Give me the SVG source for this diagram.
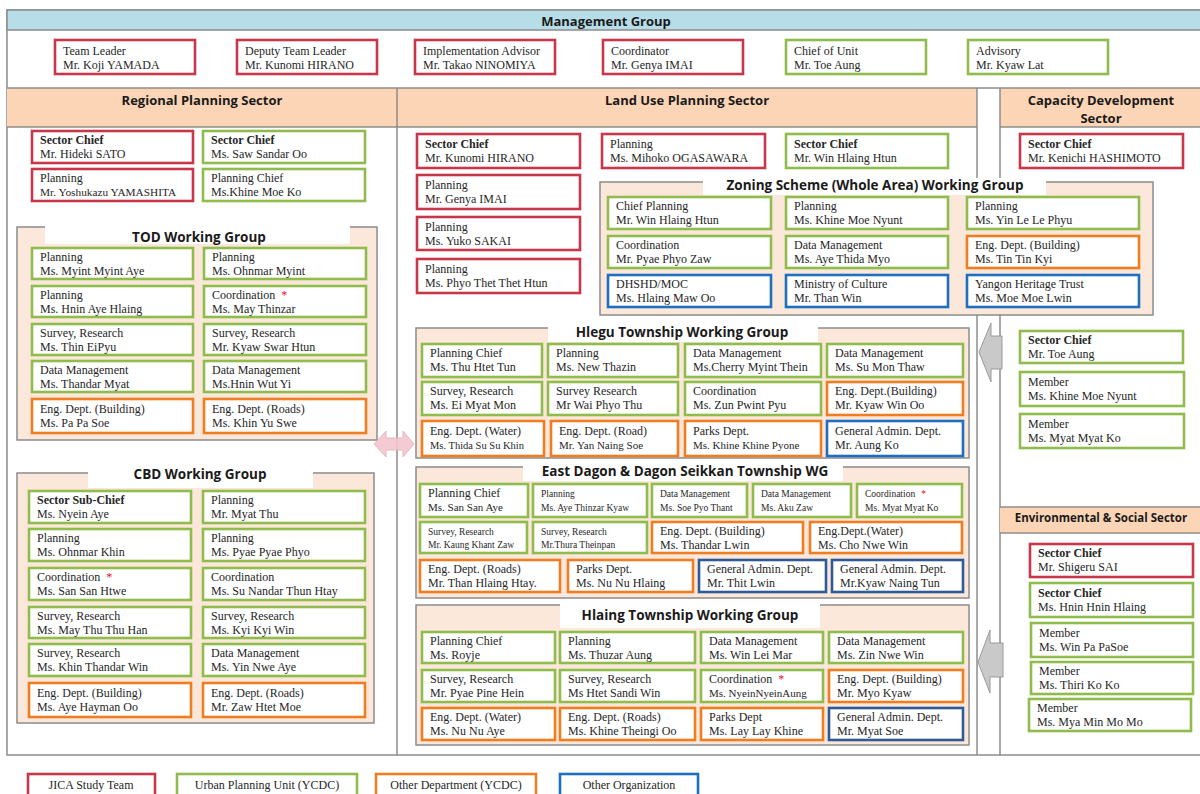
<svg xmlns="http://www.w3.org/2000/svg" width="1200" height="794" viewBox="0 0 1200 794">
<defs>
<style>
.bx{fill:#fff;stroke-width:2.6}
.r{stroke:#c8364a}
.g{stroke:#8fbc4c}
.o{stroke:#ef7d22}
.b{stroke:#1f6fc0}
.d{stroke:#2e5a98}
.t{font-family:"Liberation Serif","Times New Roman",serif;font-size:12px;fill:#262626}
.sm{font-size:9.5px}
.bo{font-weight:bold}
.h{font-family:"Open Sans","Liberation Sans",Arial,sans-serif;font-weight:bold;font-size:13px;fill:#1a1a1a;text-anchor:middle}
.wt{font-size:13.5px}
.wg{fill:#fce8da;stroke:#8c8c8c;stroke-width:1.5}
.ln{stroke:#8c8c8c;stroke-width:1.5;fill:none}
.band{fill:#fbd5b6}
.star{fill:#e0102a}
.lg{text-anchor:middle}
</style>
</defs>
<rect x="0" y="0" width="1200" height="794" fill="#fff"/>

<!-- frame and bands -->
<g id="frame">
<rect x="7" y="10" width="1200" height="745" fill="#fff" stroke="#8c8c8c" stroke-width="1.5"/>
<rect x="7" y="10" width="1200" height="20" fill="#b7dde8" stroke="#8c8c8c" stroke-width="1.5"/>
<text class="h" x="606" y="26">Management Group</text>
<rect class="band" x="7" y="88" width="390" height="39"/>
<rect class="band" x="397" y="88" width="580" height="39"/>
<rect class="band" x="1000" y="88" width="200" height="39"/>
<line class="ln" x1="7" y1="88" x2="1200" y2="88"/>
<line class="ln" x1="7" y1="127" x2="977" y2="127"/>
<line class="ln" x1="1000" y1="127" x2="1200" y2="127"/>
<line class="ln" x1="397" y1="88" x2="397" y2="755"/>
<line class="ln" x1="977" y1="88" x2="977" y2="755"/>
<line class="ln" x1="1000" y1="88" x2="1000" y2="755"/>
<text class="h" x="202" y="105">Regional Planning Sector</text>
<text class="h" x="687" y="105">Land Use Planning Sector</text>
<text class="h" x="1101" y="105">Capacity Development</text>
<text class="h" x="1101" y="123">Sector</text>
<rect class="band" x="1000" y="507" width="200" height="26"/>
<line class="ln" x1="1000" y1="507" x2="1200" y2="507"/>
<line class="ln" x1="1000" y1="533" x2="1200" y2="533"/>
<text class="h" x="1101" y="522" style="font-size:11.5px">Environmental &amp; Social Sector</text>
</g>

<!-- working group containers -->
<g id="wg-tod">
<rect class="wg" x="17" y="227" width="360" height="213"/>
<rect x="45" y="224" width="305" height="20" fill="#fff"/>
<text class="h wt" x="199" y="242">TOD Working Group</text>
</g>
<g id="wg-cbd">
<rect class="wg" x="17" y="473" width="357" height="250"/>
<rect x="88" y="469" width="225" height="19" fill="#fff"/>
<text class="h wt" x="200" y="479">CBD Working Group</text>
</g>
<g id="wg-zoning">
<rect class="wg" x="600" y="182" width="553" height="133"/>
<rect x="703" y="178" width="343" height="17" fill="#fff"/>
<text class="h wt" x="875" y="190">Zoning Scheme (Whole Area) Working Group</text>
</g>
<g id="wg-hlegu">
<rect class="wg" x="416" y="328" width="553" height="130"/>
<rect x="548" y="324" width="270" height="18" fill="#fff"/>
<text class="h wt" x="682" y="337">Hlegu Township Working Group</text>
</g>
<g id="wg-eastdagon">
<rect class="wg" x="416" y="467" width="553" height="131"/>
<rect x="523" y="463" width="320" height="18" fill="#fff"/>
<text class="h wt" x="685" y="476">East Dagon &amp; Dagon Seikkan Township WG</text>
</g>
<g id="wg-hlaing">
<rect class="wg" x="416" y="605" width="553" height="140"/>
<rect x="560" y="603" width="260" height="25" fill="#fff"/>
<text class="h wt" x="690" y="620">Hlaing Township Working Group</text>
</g>

<!-- connectors (block arrows) -->
<g id="connectors">
<polygon points="374,444 386,431 386,438 403,438 403,431 414,444 403,457 403,450 386,450 386,457" fill="#f3c6ce" stroke="#e8b0bb" stroke-width="1" opacity="0.9"/>
<polygon points="979,352 991,323 991,336 1002,336 1002,369 991,369 991,382" fill="#c9c9c9" stroke="#9a9a9a" stroke-width="1"/>
<polygon points="978,662 990,630 990,643 1003,643 1003,677 990,677 990,693" fill="#c9c9c9" stroke="#9a9a9a" stroke-width="1"/>
</g>

<!-- management -->
<g id="mg-team-leader" transform="translate(55,40)"><rect class="bx r" width="140" height="34"/><text class="t" x="8" y="15">Team Leader</text><text class="t" x="8" y="29">Mr. Koji YAMADA</text></g>
<g id="mg-deputy" transform="translate(237,40)"><rect class="bx r" width="140" height="34"/><text class="t" x="8" y="15">Deputy Team Leader</text><text class="t" x="8" y="29">Mr. Kunomi HIRANO</text></g>
<g id="mg-advisor" transform="translate(415,40)"><rect class="bx r" width="140" height="34"/><text class="t" x="8" y="15">Implementation Advisor</text><text class="t" x="8" y="29">Mr. Takao NINOMIYA</text></g>
<g id="mg-coordinator" transform="translate(603,40)"><rect class="bx r" width="140" height="34"/><text class="t" x="8" y="15">Coordinator</text><text class="t" x="8" y="29">Mr. Genya IMAI</text></g>
<g id="mg-chief-unit" transform="translate(786,40)"><rect class="bx g" width="140" height="34"/><text class="t" x="8" y="15">Chief of Unit</text><text class="t" x="8" y="29">Mr. Toe Aung</text></g>
<g id="mg-advisory" transform="translate(968,40)"><rect class="bx g" width="140" height="34"/><text class="t" x="8" y="15">Advisory</text><text class="t" x="8" y="29">Mr. Kyaw Lat</text></g>

<!-- regional planning -->
<g id="rp-chief-sato" transform="translate(32,131)"><rect class="bx r" width="161" height="32"/><text class="t bo" x="8" y="13">Sector Chief</text><text class="t" x="8" y="27">Mr. Hideki SATO</text></g>
<g id="rp-chief-saw" transform="translate(203,131)"><rect class="bx g" width="162" height="32"/><text class="t bo" x="8" y="13">Sector Chief</text><text class="t" x="8" y="27">Ms. Saw Sandar Oo</text></g>
<g id="rp-yamashita" transform="translate(32,169)"><rect class="bx r" width="161" height="32"/><text class="t" x="8" y="13">Planning</text><text class="t" x="8" y="27" style="font-size:11.3px">Mr. Yoshukazu YAMASHITA</text></g>
<g id="rp-khine" transform="translate(203,169)"><rect class="bx g" width="162" height="32"/><text class="t" x="8" y="13">Planning Chief</text><text class="t" x="8" y="27">Ms.Khine Moe Ko</text></g>

<!-- TOD -->
<g id="tod-1" transform="translate(32,248)"><rect class="bx g" width="161" height="31"/><text class="t" x="8" y="13">Planning</text><text class="t" x="8" y="27">Ms. Myint Myint Aye</text></g>
<g id="tod-2" transform="translate(204,248)"><rect class="bx g" width="162" height="31"/><text class="t" x="8" y="13">Planning</text><text class="t" x="8" y="27">Ms. Ohnmar Myint</text></g>
<g id="tod-3" transform="translate(32,286)"><rect class="bx g" width="161" height="31"/><text class="t" x="8" y="13">Planning</text><text class="t" x="8" y="27">Ms. Hnin Aye Hlaing</text></g>
<g id="tod-4" transform="translate(204,286)"><rect class="bx g" width="162" height="31"/><text class="t" x="8" y="13">Coordination<tspan class="star" dx="6">*</tspan></text><text class="t" x="8" y="27">Ms. May Thinzar</text></g>
<g id="tod-5" transform="translate(32,324)"><rect class="bx g" width="161" height="31"/><text class="t" x="8" y="13">Survey, Research</text><text class="t" x="8" y="27">Ms. Thin EiPyu</text></g>
<g id="tod-6" transform="translate(204,324)"><rect class="bx g" width="162" height="31"/><text class="t" x="8" y="13">Survey, Research</text><text class="t" x="8" y="27">Mr. Kyaw Swar Htun</text></g>
<g id="tod-7" transform="translate(32,361)"><rect class="bx g" width="161" height="31"/><text class="t" x="8" y="13">Data Management</text><text class="t" x="8" y="27">Ms. Thandar Myat</text></g>
<g id="tod-8" transform="translate(204,361)"><rect class="bx g" width="162" height="31"/><text class="t" x="8" y="13">Data Management</text><text class="t" x="8" y="27">Ms.Hnin Wut Yi</text></g>
<g id="tod-9" transform="translate(32,399)"><rect class="bx o" width="161" height="34"/><text class="t" x="8" y="14">Eng. Dept. (Building)</text><text class="t" x="8" y="28">Ms. Pa Pa Soe</text></g>
<g id="tod-10" transform="translate(204,399)"><rect class="bx o" width="162" height="34"/><text class="t" x="8" y="14">Eng. Dept. (Roads)</text><text class="t" x="8" y="28">Ms. Khin Yu Swe</text></g>

<!-- CBD -->
<g id="cbd-1" transform="translate(29,491)"><rect class="bx g" width="162" height="32"/><text class="t bo" x="8" y="13">Sector Sub-Chief</text><text class="t" x="8" y="27">Ms. Nyein Aye</text></g>
<g id="cbd-2" transform="translate(203,491)"><rect class="bx g" width="162" height="32"/><text class="t" x="8" y="13">Planning</text><text class="t" x="8" y="27">Mr. Myat Thu</text></g>
<g id="cbd-3" transform="translate(29,529)"><rect class="bx g" width="162" height="32"/><text class="t" x="8" y="13">Planning</text><text class="t" x="8" y="27">Ms. Ohnmar Khin</text></g>
<g id="cbd-4" transform="translate(203,529)"><rect class="bx g" width="162" height="32"/><text class="t" x="8" y="13">Planning</text><text class="t" x="8" y="27">Ms. Pyae Pyae Phyo</text></g>
<g id="cbd-5" transform="translate(29,568)"><rect class="bx g" width="162" height="32"/><text class="t" x="8" y="13">Coordination<tspan class="star" dx="6">*</tspan></text><text class="t" x="8" y="27">Ms. San San Htwe</text></g>
<g id="cbd-6" transform="translate(203,568)"><rect class="bx g" width="162" height="32"/><text class="t" x="8" y="13">Coordination</text><text class="t" x="8" y="27">Ms. Su Nandar Thun Htay</text></g>
<g id="cbd-7" transform="translate(29,607)"><rect class="bx g" width="162" height="31"/><text class="t" x="8" y="13">Survey, Research</text><text class="t" x="8" y="27">Ms. May Thu Thu Han</text></g>
<g id="cbd-8" transform="translate(203,607)"><rect class="bx g" width="162" height="31"/><text class="t" x="8" y="13">Survey, Research</text><text class="t" x="8" y="27">Ms. Kyi Kyi Win</text></g>
<g id="cbd-9" transform="translate(29,644)"><rect class="bx g" width="162" height="32"/><text class="t" x="8" y="13">Survey, Research</text><text class="t" x="8" y="27">Ms. Khin Thandar Win</text></g>
<g id="cbd-10" transform="translate(203,644)"><rect class="bx g" width="162" height="32"/><text class="t" x="8" y="13">Data Management</text><text class="t" x="8" y="27">Ms. Yin Nwe Aye</text></g>
<g id="cbd-11" transform="translate(29,683)"><rect class="bx o" width="162" height="34"/><text class="t" x="8" y="14">Eng. Dept. (Building)</text><text class="t" x="8" y="28">Ms. Aye Hayman Oo</text></g>
<g id="cbd-12" transform="translate(203,683)"><rect class="bx o" width="162" height="34"/><text class="t" x="8" y="14">Eng. Dept. (Roads)</text><text class="t" x="8" y="28">Mr. Zaw Htet Moe</text></g>

<!-- land use planning -->
<g id="lu-chief-hirano" transform="translate(417,134)"><rect class="bx r" width="163" height="34"/><text class="t bo" x="8" y="14">Sector Chief</text><text class="t" x="8" y="28">Mr. Kunomi HIRANO</text></g>
<g id="lu-ogasawara" transform="translate(602,134)"><rect class="bx r" width="163" height="34"/><text class="t" x="8" y="14">Planning</text><text class="t" x="8" y="28">Ms. Mihoko OGASAWARA</text></g>
<g id="lu-chief-win" transform="translate(786,134)"><rect class="bx g" width="162" height="34"/><text class="t bo" x="8" y="14">Sector Chief</text><text class="t" x="8" y="28">Mr. Win Hlaing Htun</text></g>
<g id="lu-imai" transform="translate(417,175)"><rect class="bx r" width="163" height="34"/><text class="t" x="8" y="14">Planning</text><text class="t" x="8" y="28">Mr. Genya IMAI</text></g>
<g id="lu-sakai" transform="translate(417,217)"><rect class="bx r" width="163" height="33"/><text class="t" x="8" y="14">Planning</text><text class="t" x="8" y="28">Ms. Yuko SAKAI</text></g>
<g id="lu-phyo" transform="translate(417,259)"><rect class="bx r" width="163" height="34"/><text class="t" x="8" y="14">Planning</text><text class="t" x="8" y="28">Ms. Phyo Thet Thet Htun</text></g>

<!-- zoning -->
<g id="zn-1" transform="translate(608,197)"><rect class="bx g" width="163" height="32"/><text class="t" x="8" y="13">Chief Planning</text><text class="t" x="8" y="27">Mr. Win Hlaing Htun</text></g>
<g id="zn-2" transform="translate(786,197)"><rect class="bx g" width="162" height="32"/><text class="t" x="8" y="13">Planning</text><text class="t" x="8" y="27">Ms. Khine Moe Nyunt</text></g>
<g id="zn-3" transform="translate(967,197)"><rect class="bx g" width="172" height="32"/><text class="t" x="8" y="13">Planning</text><text class="t" x="8" y="27">Ms. Yin Le Le Phyu</text></g>
<g id="zn-4" transform="translate(608,236)"><rect class="bx g" width="163" height="32"/><text class="t" x="8" y="13">Coordination</text><text class="t" x="8" y="27">Mr. Pyae Phyo Zaw</text></g>
<g id="zn-5" transform="translate(786,236)"><rect class="bx g" width="162" height="32"/><text class="t" x="8" y="13">Data Management</text><text class="t" x="8" y="27">Ms. Aye Thida Myo</text></g>
<g id="zn-6" transform="translate(967,236)"><rect class="bx o" width="172" height="32"/><text class="t" x="8" y="13">Eng. Dept. (Building)</text><text class="t" x="8" y="27">Ms. Tin Tin Kyi</text></g>
<g id="zn-7" transform="translate(608,275)"><rect class="bx b" width="163" height="32"/><text class="t" x="8" y="13">DHSHD/MOC</text><text class="t" x="8" y="27">Ms. Hlaing Maw Oo</text></g>
<g id="zn-8" transform="translate(786,275)"><rect class="bx b" width="162" height="32"/><text class="t" x="8" y="13">Ministry of Culture</text><text class="t" x="8" y="27">Mr. Than Win</text></g>
<g id="zn-9" transform="translate(967,275)"><rect class="bx b" width="172" height="32"/><text class="t" x="8" y="13">Yangon Heritage Trust</text><text class="t" x="8" y="27">Ms. Moe Moe Lwin</text></g>

<!-- Hlegu -->
<g id="hl-1" transform="translate(422,344)"><rect class="bx g" width="120" height="33"/><text class="t" x="8" y="13">Planning Chief</text><text class="t" x="8" y="27">Ms. Thu Htet Tun</text></g>
<g id="hl-2" transform="translate(548,344)"><rect class="bx g" width="130" height="33"/><text class="t" x="8" y="13">Planning</text><text class="t" x="8" y="27">Ms. New Thazin</text></g>
<g id="hl-3" transform="translate(685,344)"><rect class="bx g" width="136" height="33"/><text class="t" x="8" y="13">Data Management</text><text class="t" x="8" y="27">Ms.Cherry Myint Thein</text></g>
<g id="hl-4" transform="translate(827,344)"><rect class="bx g" width="136" height="33"/><text class="t" x="8" y="13">Data Management</text><text class="t" x="8" y="27">Ms. Su Mon Thaw</text></g>
<g id="hl-5" transform="translate(422,382)"><rect class="bx g" width="120" height="33"/><text class="t" x="8" y="13">Survey, Research</text><text class="t" x="8" y="27">Ms. Ei Myat Mon</text></g>
<g id="hl-6" transform="translate(548,382)"><rect class="bx g" width="130" height="33"/><text class="t" x="8" y="13">Survey Research</text><text class="t" x="8" y="27">Mr Wai Phyo Thu</text></g>
<g id="hl-7" transform="translate(685,382)"><rect class="bx g" width="136" height="33"/><text class="t" x="8" y="13">Coordination</text><text class="t" x="8" y="27">Ms. Zun Pwint Pyu</text></g>
<g id="hl-8" transform="translate(827,382)"><rect class="bx o" width="136" height="33"/><text class="t" x="8" y="13">Eng. Dept.(Building)</text><text class="t" x="8" y="27">Mr. Kyaw Win Oo</text></g>
<g id="hl-9" transform="translate(422,421)"><rect class="bx o" width="122" height="35"/><text class="t" x="8" y="14">Eng. Dept. (Water)</text><text class="t" x="8" y="28" style="font-size:10.5px">Ms. Thida Su Su Khin</text></g>
<g id="hl-10" transform="translate(551,421)"><rect class="bx o" width="127" height="35"/><text class="t" x="8" y="14">Eng. Dept. (Road)</text><text class="t" x="8" y="28" style="font-size:11px">Mr. Yan Naing Soe</text></g>
<g id="hl-11" transform="translate(685,421)"><rect class="bx o" width="136" height="35"/><text class="t" x="8" y="14">Parks Dept.</text><text class="t" x="8" y="28" style="font-size:11px">Ms. Khine Khine Pyone</text></g>
<g id="hl-12" transform="translate(827,421)"><rect class="bx b" width="136" height="35"/><text class="t" x="8" y="14">General Admin. Dept.</text><text class="t" x="8" y="28">Mr. Aung Ko</text></g>

<!-- East Dagon -->
<g id="ed-1" transform="translate(420,484)"><rect class="bx g" width="108" height="33"/><text class="t" x="8" y="13">Planning Chief</text><text class="t" x="8" y="27" style="font-size:11px">Ms. San San Aye</text></g>
<g id="ed-2" transform="translate(533,484)"><rect class="bx g" width="114" height="33"/><text class="t sm" x="8" y="13">Planning</text><text class="t sm" x="8" y="27">Ms. Aye Thinzar Kyaw</text></g>
<g id="ed-3" transform="translate(652,484)"><rect class="bx g" width="95" height="33"/><text class="t sm" x="8" y="13">Data Management</text><text class="t sm" x="8" y="27">Ms. Soe Pyo Thant</text></g>
<g id="ed-4" transform="translate(753,484)"><rect class="bx g" width="98" height="33"/><text class="t sm" x="8" y="13">Data Management</text><text class="t sm" x="8" y="27">Ms. Aku Zaw</text></g>
<g id="ed-5" transform="translate(857,484)"><rect class="bx g" width="105" height="33"/><text class="t sm" x="8" y="13">Coordination<tspan class="star" dx="6">*</tspan></text><text class="t sm" x="8" y="27">Ms. Myat Myat Ko</text></g>
<g id="ed-6" transform="translate(420,522)"><rect class="bx g" width="107" height="31"/><text class="t sm" x="8" y="13">Survey, Research</text><text class="t sm" x="8" y="26">Mr. Kaung Khant Zaw</text></g>
<g id="ed-7" transform="translate(533,522)"><rect class="bx g" width="114" height="31"/><text class="t sm" x="8" y="13">Survey, Research</text><text class="t sm" x="8" y="26">Mr.Thura Theinpan</text></g>
<g id="ed-8" transform="translate(652,522)"><rect class="bx o" width="151" height="31"/><text class="t" x="8" y="13">Eng. Dept. (Building)</text><text class="t" x="8" y="27">Ms. Thandar Lwin</text></g>
<g id="ed-9" transform="translate(810,522)"><rect class="bx o" width="152" height="31"/><text class="t" x="8" y="13">Eng.Dept.(Water)</text><text class="t" x="8" y="27">Ms. Cho Nwe Win</text></g>
<g id="ed-10" transform="translate(420,560)"><rect class="bx o" width="140" height="32"/><text class="t" x="8" y="13">Eng. Dept. (Roads)</text><text class="t" x="8" y="27">Mr. Than Hlaing Htay.</text></g>
<g id="ed-11" transform="translate(568,560)"><rect class="bx o" width="125" height="32"/><text class="t" x="8" y="13">Parks Dept.</text><text class="t" x="8" y="27">Ms. Nu Nu Hlaing</text></g>
<g id="ed-12" transform="translate(699,560)"><rect class="bx d" width="127" height="32"/><text class="t" x="8" y="13">General Admin. Dept.</text><text class="t" x="8" y="27">Mr. Thit Lwin</text></g>
<g id="ed-13" transform="translate(832,560)"><rect class="bx d" width="131" height="32"/><text class="t" x="8" y="13">General Admin. Dept.</text><text class="t" x="8" y="27">Mr.Kyaw Naing Tun</text></g>

<!-- Hlaing -->
<g id="hg-1" transform="translate(422,632)"><rect class="bx g" width="133" height="31"/><text class="t" x="8" y="13">Planning Chief</text><text class="t" x="8" y="27">Ms. Royje</text></g>
<g id="hg-2" transform="translate(560,632)"><rect class="bx g" width="135" height="31"/><text class="t" x="8" y="13">Planning</text><text class="t" x="8" y="27">Ms. Thuzar Aung</text></g>
<g id="hg-3" transform="translate(701,632)"><rect class="bx g" width="122" height="31"/><text class="t" x="8" y="13">Data Management</text><text class="t" x="8" y="27">Ms. Win Lei Mar</text></g>
<g id="hg-4" transform="translate(829,632)"><rect class="bx g" width="134" height="31"/><text class="t" x="8" y="13">Data Management</text><text class="t" x="8" y="27">Ms. Zin Nwe Win</text></g>
<g id="hg-5" transform="translate(422,670)"><rect class="bx g" width="133" height="32"/><text class="t" x="8" y="13">Survey, Research</text><text class="t" x="8" y="27">Mr. Pyae Pine Hein</text></g>
<g id="hg-6" transform="translate(560,670)"><rect class="bx g" width="135" height="32"/><text class="t" x="8" y="13">Survey, Research</text><text class="t" x="8" y="27">Ms Htet Sandi Win</text></g>
<g id="hg-7" transform="translate(701,670)"><rect class="bx g" width="122" height="32"/><text class="t" x="8" y="13">Coordination<tspan class="star" dx="6">*</tspan></text><text class="t" x="8" y="27" style="font-size:11px">Ms. NyeinNyeinAung</text></g>
<g id="hg-8" transform="translate(829,670)"><rect class="bx o" width="134" height="32"/><text class="t" x="8" y="13">Eng. Dept. (Building)</text><text class="t" x="8" y="27">Mr. Myo Kyaw</text></g>
<g id="hg-9" transform="translate(422,708)"><rect class="bx o" width="133" height="32"/><text class="t" x="8" y="13">Eng. Dept. (Water)</text><text class="t" x="8" y="27">Ms. Nu Nu Aye</text></g>
<g id="hg-10" transform="translate(560,708)"><rect class="bx o" width="135" height="32"/><text class="t" x="8" y="13">Eng. Dept. (Roads)</text><text class="t" x="8" y="27">Ms. Khine Theingi Oo</text></g>
<g id="hg-11" transform="translate(701,708)"><rect class="bx o" width="122" height="32"/><text class="t" x="8" y="13">Parks Dept</text><text class="t" x="8" y="27">Ms. Lay Lay Khine</text></g>
<g id="hg-12" transform="translate(829,708)"><rect class="bx d" width="134" height="32"/><text class="t" x="8" y="13">General Admin. Dept.</text><text class="t" x="8" y="27">Mr. Myat Soe</text></g>

<!-- capacity development -->
<g id="cd-chief-hashimoto" transform="translate(1020,134)"><rect class="bx r" width="163" height="34"/><text class="t bo" x="8" y="14">Sector Chief</text><text class="t" x="8" y="28">Mr. Kenichi HASHIMOTO</text></g>
<g id="cd-chief-toe" transform="translate(1020,331)"><rect class="bx g" width="163" height="32"/><text class="t bo" x="8" y="13">Sector Chief</text><text class="t" x="8" y="27">Mr. Toe Aung</text></g>
<g id="cd-member-khine" transform="translate(1020,372)"><rect class="bx g" width="164" height="34"/><text class="t" x="8" y="14">Member</text><text class="t" x="8" y="28">Ms. Khine Moe Nyunt</text></g>
<g id="cd-member-myat" transform="translate(1020,414)"><rect class="bx g" width="164" height="34"/><text class="t" x="8" y="14">Member</text><text class="t" x="8" y="28">Ms. Myat Myat Ko</text></g>

<!-- environmental & social -->
<g id="es-chief-sai" transform="translate(1030,544)"><rect class="bx r" width="163" height="33"/><text class="t bo" x="8" y="13">Sector Chief</text><text class="t" x="8" y="27">Mr. Shigeru SAI</text></g>
<g id="es-chief-hnin" transform="translate(1030,583)"><rect class="bx g" width="163" height="34"/><text class="t bo" x="8" y="14">Sector Chief</text><text class="t" x="8" y="28">Ms. Hnin Hnin Hlaing</text></g>
<g id="es-member-win" transform="translate(1031,623)"><rect class="bx g" width="162" height="34"/><text class="t" x="8" y="14">Member</text><text class="t" x="8" y="28">Ms. Win Pa PaSoe</text></g>
<g id="es-member-thiri" transform="translate(1031,662)"><rect class="bx g" width="162" height="32"/><text class="t" x="8" y="13">Member</text><text class="t" x="8" y="27">Ms. Thiri Ko Ko</text></g>
<g id="es-member-mya" transform="translate(1029,699)"><rect class="bx g" width="162" height="32"/><text class="t" x="8" y="13">Member</text><text class="t" x="8" y="27">Ms. Mya Min Mo Mo</text></g>

<!-- legend -->
<g id="legend-jica"><rect class="bx r" x="28" y="774" width="127" height="26"/><text class="t lg" x="91" y="789">JICA Study Team</text></g>
<g id="legend-upu"><rect class="bx g" x="177" y="774" width="180" height="26"/><text class="t lg" x="267" y="789">Urban Planning Unit (YCDC)</text></g>
<g id="legend-other-dept"><rect class="bx o" x="376" y="774" width="160" height="26"/><text class="t lg" x="456" y="789">Other Department (YCDC)</text></g>
<g id="legend-other-org"><rect class="bx b" x="560" y="774" width="138" height="26"/><text class="t lg" x="629" y="789">Other Organization</text></g>
</svg>
